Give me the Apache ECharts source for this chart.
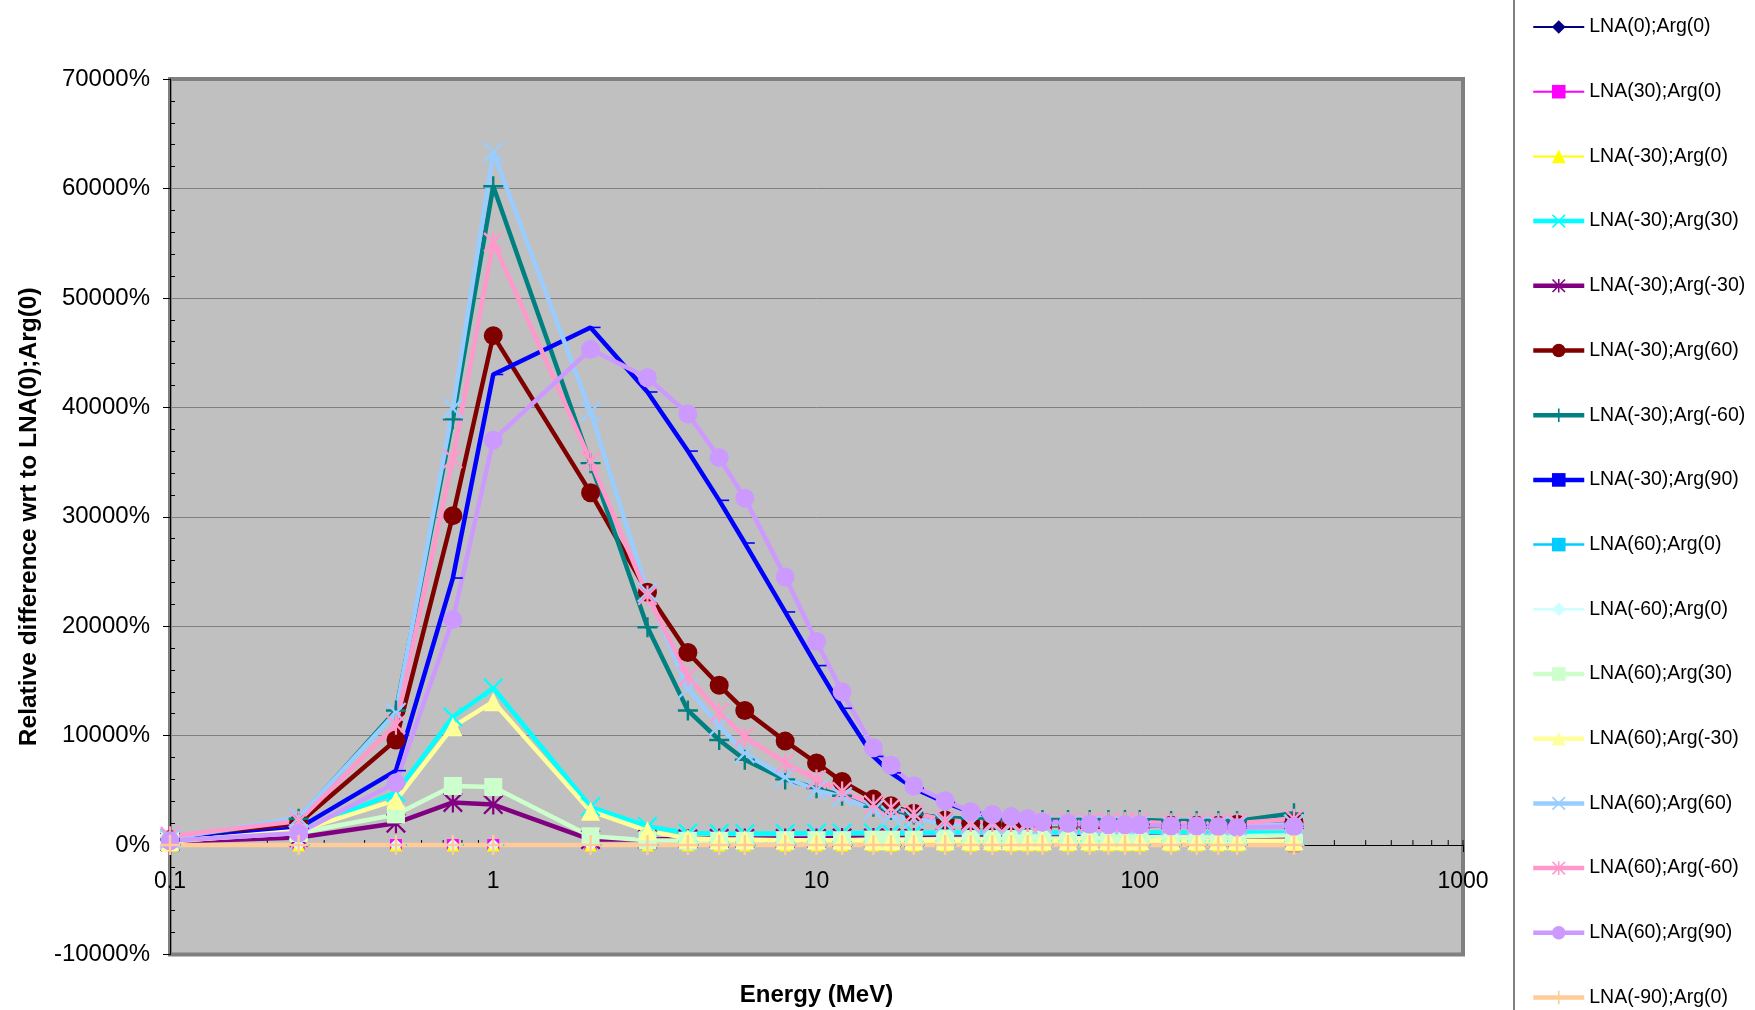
<!DOCTYPE html>
<html>
<head>
<meta charset="utf-8">
<script src="https://cdn.jsdelivr.net/npm/echarts@6/dist/echarts.min.js"></script>
<style>
html,body{margin:0;padding:0;background:#fff;}
#chart{width:1755px;height:1010px;}
</style>
</head>
<body>
<div id="chart"></div>
<script>
// ---------- DATA ----------
const energies = [0.1, 0.25, 0.5, 0.75, 1, 2, 3, 4, 5, 6, 8, 10, 12, 15, 17, 20, 25, 30, 35, 40, 45, 50, 60, 70, 80, 90, 100, 125, 150, 175, 200, 300];

const seriesNames = [
  'LNA(0);Arg(0)', 'LNA(30);Arg(0)', 'LNA(-30);Arg(0)', 'LNA(-30);Arg(30)',
  'LNA(-30);Arg(-30)', 'LNA(-30);Arg(60)', 'LNA(-30);Arg(-60)', 'LNA(-30);Arg(90)',
  'LNA(60);Arg(0)', 'LNA(-60);Arg(0)', 'LNA(60);Arg(30)', 'LNA(60);Arg(-30)',
  'LNA(60);Arg(60)', 'LNA(60);Arg(-60)', 'LNA(60);Arg(90)', 'LNA(-90);Arg(0)'
];

// values in percent
const lna0_arg0    = [0,0,0,0,0,0,0,0,0,0,0,0,0,0,0,0,0,0,0,0,0,0,0,0,0,0,0,0,0,0,0,0];
const lna30_arg0   = [0,0,0,0,0,0,0,0,0,0,0,0,0,0,0,0,0,0,0,0,0,0,0,0,0,0,0,0,0,0,0,-100];
const lnaM30_arg0  = [0,0,0,0,0,0,0,0,0,0,0,0,0,0,0,0,0,0,0,0,0,0,0,0,0,0,0,0,0,0,0,0];
const lnaM30_arg30 = [500,1300,4800,11700,14350,3500,1700,1100,1050,1050,1050,1100,1100,1100,1100,1100,1150,1150,1150,1150,1150,1150,1150,1150,1150,1150,1150,1150,1150,1150,1150,1100];
const lnaM30_argM30= [300,700,2000,3900,3700,500,500,550,600,600,600,600,650,650,650,650,700,700,700,700,700,700,700,750,750,750,750,750,750,750,750,750];
const lnaM30_arg60 = [500,2000,9600,30100,46550,32200,23100,17600,14600,12300,9500,7500,5800,4200,3600,2900,2300,2000,1900,1800,1800,1800,1800,1800,1800,1800,1800,1800,1800,1800,1900,2100];
const lnaM30_argM60= [500,2400,12300,38900,60200,34900,19900,12300,9600,7800,6000,5200,4500,3500,3200,2800,2500,2400,2300,2300,2300,2300,2300,2300,2300,2300,2300,2200,2200,2200,2200,2900];
const lnaM30_arg90 = [400,1550,6800,24400,43000,47300,41400,36000,31500,27600,21300,16400,12500,8100,6600,5200,3900,3000,2700,2600,2500,2200,2000,1900,1900,1900,1900,1800,1800,1800,1700,1700];
const lna60_arg0   = [0,0,0,0,0,0,0,0,0,0,0,0,0,0,0,0,0,0,0,0,0,0,0,0,0,0,0,0,0,0,0,0];
const lnaM60_arg0  = [0,0,0,0,0,0,0,0,0,0,0,0,0,0,0,0,0,0,0,0,0,0,0,0,0,0,0,0,0,0,0,0];
const lna60_arg30  = [400,1100,2800,5400,5300,800,450,400,400,400,450,450,450,500,500,500,550,550,550,550,600,600,600,650,650,700,700,750,750,800,800,900];
const lna60_argM30 = [300,1300,4100,10800,13100,3100,1300,600,500,500,450,450,450,400,400,400,400,400,400,400,400,400,400,400,400,400,400,400,400,400,400,400];
const lna60_arg60  = [600,2500,12100,39900,63300,39600,23100,14300,10900,8400,6200,5000,4400,3200,2700,2400,2000,1900,1900,1900,1900,1900,1900,1900,1900,1900,1900,1800,1800,1800,1800,1900];
const lna60_argM60 = [800,2200,11000,35300,55100,35100,22800,15400,12100,9900,7500,6000,4900,3700,3400,2900,2300,2100,2100,2100,2100,2100,2100,2100,2100,2100,2100,2000,2000,2000,2000,2400];
const lna60_arg90  = [400,1100,5700,20600,37000,45300,42700,39400,35400,31700,24500,18600,14000,8900,7300,5400,4050,3050,2800,2600,2400,2100,2000,1900,1850,1850,1850,1750,1750,1700,1600,1700];
const lnaM90_arg0  = [0,0,0,0,0,0,0,0,0,0,0,0,0,0,0,0,0,0,0,0,0,0,0,0,0,0,0,0,0,0,0,0];

const seriesValues = [
  lna0_arg0, lna30_arg0, lnaM30_arg0, lnaM30_arg30, lnaM30_argM30, lnaM30_arg60,
  lnaM30_argM60, lnaM30_arg90, lna60_arg0, lnaM60_arg0, lna60_arg30, lna60_argM30,
  lna60_arg60, lna60_argM60, lna60_arg90, lnaM90_arg0
];

// log-axis small ticks (2..9 of each decade, plus decades)
const xSmallTicks = [0.1,0.2,0.3,0.4,0.5,0.6,0.7,0.8,0.9,1,2,3,4,5,6,7,8,9,10,20,30,40,50,60,70,80,90,100,200,300,400,500,600,700,800,900,1000];

const yMin = -10000, yMax = 70000, yStep = 10000;
const xMin = 0.1, xMax = 1000;

// ---------- STYLES ----------
const X_PATH = 'path://M0,0.8L0.8,0L5,4.2L9.2,0L10,0.8L5.8,5L10,9.2L9.2,10L5,5.8L0.8,10L0,9.2L4.2,5Z';
const AST_PATH = 'path://M0,0.8L0.8,0L5,4.2L9.2,0L10,0.8L5.8,5L10,9.2L9.2,10L5,5.8L0.8,10L0,9.2L4.2,5Z M4.45,0L5.55,0L5.55,10L4.45,10Z';
const PLUS_PATH = 'path://M4.4,0H5.6V4.4H10V5.6H5.6V10H4.4V5.6H0V4.4H4.4Z';
const DASH_PATH = 'path://M0,0H10V4H0Z';

const styles = [
  {color:'#000080', width:2,   symbol:'diamond',  size:12},
  {color:'#FF00FF', width:2,   symbol:'rect',     size:12},
  {color:'#FFFF00', width:2,   symbol:'triangle', size:13},
  {color:'#00FFFF', width:4.5, symbol:X_PATH,     size:20},
  {color:'#800080', width:4.5, symbol:AST_PATH,   size:20},
  {color:'#800000', width:4.5, symbol:'circle',   size:19},
  {color:'#008080', width:4.5, symbol:PLUS_PATH,  size:20},
  {color:'#0000FF', width:4.5, symbol:DASH_PATH,  size:[10,4], offset:[5,0], keep:true},
  {color:'#00CCFF', width:2.5, symbol:DASH_PATH,  size:[12,4], offset:[5,0], keep:true},
  {color:'#CCFFFF', width:2.5, symbol:'diamond',  size:13},
  {color:'#CCFFCC', width:4.5, symbol:'rect',     size:18},
  {color:'#FFFF99', width:4.5, symbol:'triangle', size:19},
  {color:'#99CCFF', width:4.5, symbol:X_PATH,     size:21},
  {color:'#FF99CC', width:4.5, symbol:AST_PATH,   size:20},
  {color:'#CC99FF', width:4.5, symbol:'circle',   size:19},
  {color:'#FFCC99', width:4.5, symbol:PLUS_PATH,  size:20}
];

const FONT = '"Liberation Sans", Arial, sans-serif';

// grid geometry
const GRID_TOP = 79, GRID_BOTTOM = 55.5, CANVAS_H = 1010;
const plotH = CANVAS_H - GRID_TOP - GRID_BOTTOM;
// x axis crosses the value axis at 0: offset it up from the grid bottom
const xAxisOffset = -plotH * (0 - yMin) / (yMax - yMin);

// ---------- BUILD ----------
const chart = echarts.init(document.getElementById('chart'), null, {renderer:'canvas'});

const series = [];
series.push({
  type:'custom', name:'_ticks', silent:true, z:1,
  data: xSmallTicks.map(v => [v, 0]),
  renderItem: function (params, api) {
    const p = api.coord([api.value(0), 0]);
    return {type:'line', shape:{x1:p[0], y1:p[1], x2:p[0], y2:p[1]-5},
            style:{stroke:'#000', lineWidth:1}};
  },
  clip:false
});

seriesNames.forEach((name, k) => {
  const st = styles[k];
  series.push({
    type:'line', name:name, z:2,
    data: energies.map((e, i) => [e, seriesValues[k][i]]),
    symbol: st.symbol, symbolSize: st.size, symbolOffset: st.offset || [0,0],
    symbolKeepAspect: !!st.keep,
    showAllSymbol:true,
    lineStyle:{color:st.color, width:st.width},
    itemStyle:{color:st.color, borderWidth:0},
    emphasis:{disabled:true},
    animation:false
  });
});

const option = {
  animation:false,
  backgroundColor:'#ffffff',
  grid:{left:170, right:292, top:GRID_TOP, bottom:GRID_BOTTOM, show:true,
        outerBoundsMode:'none', containLabel:false,
        backgroundColor:'#C0C0C0', borderColor:'#808080', borderWidth:4},
  legend:{
    orient:'vertical', left:1514, top:-10, height:1200,
    data: seriesNames.map((n, k) => ({name:n, lineStyle:{width:styles[k].width}})),
    itemWidth:51, itemHeight:17, itemGap:44.7,
    padding:[27, 100, 60, 17],
    borderColor:'#000', borderWidth:1,
    textStyle:{fontFamily:FONT, fontSize:19.5, color:'#000', lineHeight:20},
    selectedMode:false
  },
  xAxis:{
    type:'log', logBase:10, min:xMin, max:xMax,
    offset: xAxisOffset,
    name:'Energy (MeV)', nameLocation:'middle', nameGap:138,
    nameTextStyle:{fontFamily:FONT, fontSize:24, fontWeight:'bold', color:'#000'},
    axisLine:{show:true, onZero:false, lineStyle:{color:'#000', width:1}},
    axisTick:{show:true, length:7, lineStyle:{color:'#000'}},
    axisLabel:{fontFamily:FONT, fontSize:23, color:'#000', margin:25,
               formatter: v => String(v)},
    splitLine:{show:false}
  },
  yAxis:[{
    type:'value', min:yMin, max:yMax, interval:yStep,
    name:'Relative difference wrt to LNA(0);Arg(0)', nameLocation:'middle', nameGap:128, nameRotate:90,
    nameTextStyle:{fontFamily:FONT, fontSize:24.5, fontWeight:'bold', color:'#000'},
    axisLine:{show:true, lineStyle:{color:'#000', width:1}},
    axisTick:{show:true, length:7, lineStyle:{color:'#000'}},
    axisLabel:{fontFamily:FONT, fontSize:24, color:'#000', margin:20, formatter: v => v + '%'},
    splitLine:{show:true, lineStyle:{color:'#808080', width:1}}
  },{
    type:'value', min:yMin, max:yMax, interval:yStep, position:'left',
    axisLine:{show:false}, axisLabel:{show:false}, splitLine:{show:false},
    axisTick:{show:false, inside:true},
    minorTick:{show:true, splitNumber:5, length:5, lineStyle:{color:'#000', width:1}}
  }],
  series: series
};
chart.setOption(option);
</script>
</body>
</html>
